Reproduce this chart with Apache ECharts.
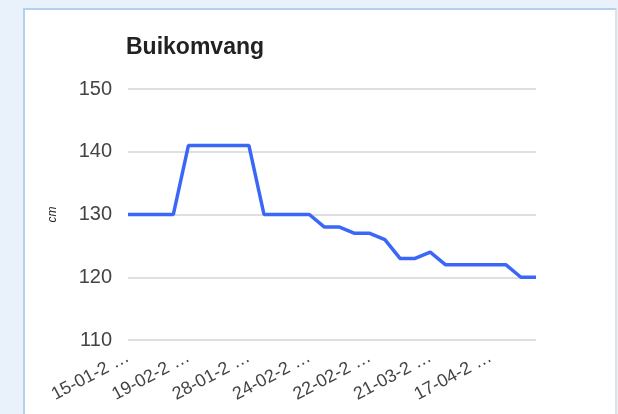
<!DOCTYPE html>
<html>
<head>
<meta charset="utf-8">
<script src="https://cdn.jsdelivr.net/npm/echarts@6/dist/echarts.min.js"></script>
<style>
  html, body { margin: 0; padding: 0; }
  body { width: 618px; height: 414px; background: #e9f1fa; position: relative; overflow: hidden; }
  .panel {
    position: absolute; left: 23px; top: 8px; width: 590px; height: 420px;
    background: #fff; border: 2px solid #b4d0ef; border-right-color: #e2e2e2;
  }
  #chart { position: absolute; left: 0; top: 0; width: 618px; height: 414px; }
</style>
</head>
<body>
<div class="panel"></div>
<div id="chart"></div>
<script>
// x-as: 28 metingen, alleen elke 4e heeft een (afgekapt) label
const tickLabels = ['15-01-2 …', '19-02-2 …', '28-01-2 …', '24-02-2 …', '22-02-2 …', '21-03-2 …', '17-04-2 …'];
const buikomvang = [
  130, 130, 130, 130,
  141, 141, 141, 141, 141,
  130, 130, 130, 130,
  128, 128, 127, 127, 126,
  123, 123, 124,
  122, 122, 122, 122, 122,
  120, 120
];
const categories = buikomvang.map((v, i) => String(i));

const chart = echarts.init(document.getElementById('chart'));

chart.setOption({
  backgroundColor: 'transparent',
  animation: false,
  title: {
    text: 'Buikomvang',
    left: 126,
    top: 36,
    padding: 0,
    textStyle: { fontFamily: 'Liberation Sans', fontSize: 23, fontWeight: 'bold', color: '#222' }
  },
  grid: { left: 128, right: 82, top: 89, bottom: 74 },
  xAxis: {
    type: 'category',
    data: categories,
    boundaryGap: false,
    axisLine: { show: false },
    axisTick: { show: false },
    axisLabel: {
      interval: 0,
      rotate: 28,
      margin: 16,
      color: '#444',
      fontFamily: 'Liberation Sans',
      fontSize: 18,
      formatter: (v, i) => (i % 4 === 0 ? tickLabels[i / 4] : '')
    }
  },
  yAxis: {
    type: 'value',
    min: 110,
    max: 150,
    interval: 10,
    name: 'cm',
    nameLocation: 'middle',
    nameRotate: 90,
    nameGap: 69,
    nameTextStyle: { fontFamily: 'Liberation Sans', fontStyle: 'italic', fontSize: 12, color: '#222' },
    axisLabel: { margin: 16, color: '#444', fontFamily: 'Liberation Sans', fontSize: 20 },
    splitLine: { lineStyle: { color: '#d4d4d4', width: 1.5 } }
  },
  series: [{
    type: 'line',
    data: buikomvang,
    showSymbol: false,
    lineStyle: { color: '#3a67f7', width: 3.5 }
  }]
});
</script>
</body>
</html>
